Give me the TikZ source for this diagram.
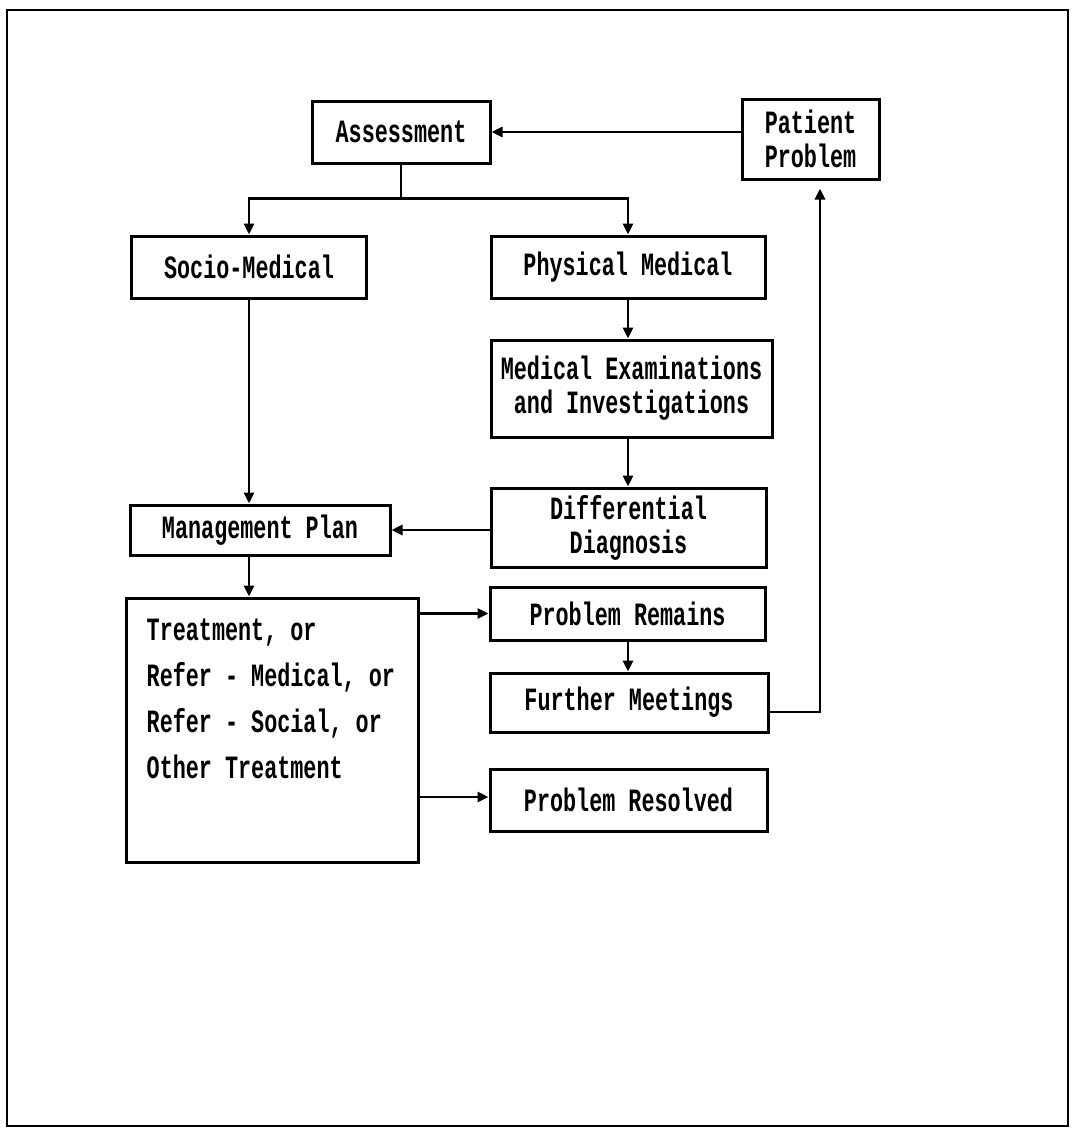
\documentclass[tikz,border=0pt]{standalone}
\usepackage{fontspec}
\newfontfamily\boxfont[FakeStretch=0.67]{Liberation Mono}
\usetikzlibrary{arrows.meta,calc}

\begin{document}
\begin{tikzpicture}[x=1pt,y=-1pt,
  txt/.style={font=\boxfont\bfseries\fontsize{32.5}{34}\selectfont},
  box/.style={txt, draw, line width=3pt, inner sep=0pt, align=center},
  conn/.style={line width=2.8pt},
  arr/.style={conn, -{Triangle[length=11pt,width=10pt]}},
]
\useasboundingbox (0,0) rectangle (1072,1130);
% page frame
\draw[line width=2.2pt] (7,10) rectangle (1068,1126);

% boxes
\node[box, minimum width=178pt, minimum height=62pt] (assess) at (401,132) {Assessment};
\node[box, minimum width=137pt, minimum height=80pt] (patient) at (810.5,139) {Patient\\Problem};
\node[box, minimum width=235pt, minimum height=62pt] (socio) at (249,267) {Socio-Medical};
\node[box, minimum width=274pt, minimum height=62pt] (physical) at (628,267) {Physical Medical};
\node[box, minimum width=281pt, minimum height=97pt] (medexam) at (631.5,388.5) {Medical Examinations\\and Investigations};
\node[box, minimum width=275pt, minimum height=79pt] (diff) at (628.5,527.5) {Differential\\Diagnosis};
\node[box, minimum width=260pt, minimum height=50pt] (mgmt) at (260,530) {Management Plan};
\node[box, minimum width=292pt, minimum height=264pt] (treat) at (272,730) {};
\node[txt, anchor=north west, align=left, inner sep=0pt,
      font=\boxfont\bfseries\fontsize{32.5}{46}\selectfont]
  (treattext) at ([shift={(22,22)}]treat.north west)
  {Treatment, or\\Refer - Medical, or\\Refer - Social, or\\Other Treatment};
\node[box, minimum width=275pt, minimum height=53pt] (remains) at (627.5,613.5) {Problem Remains};
\node[box, minimum width=278pt, minimum height=59pt] (further) at (629,702.5) {Further Meetings};
\node[box, minimum width=277pt, minimum height=62pt] (resolved) at (628.5,800) {Problem Resolved};

% connectors
\draw[arr] (patient.west |- assess.east) -- (assess.east);
\draw[conn] (assess.south) -- ++(0,34) coordinate (split);
\draw[arr] (split) -| (socio.north);
\draw[arr] (split) -| (physical.north);
\draw[arr] (physical.south) -- (physical.south |- medexam.north);
\draw[arr] (physical.south |- medexam.south) -- (physical.south |- diff.north);
\draw[arr] (socio.south) -- (socio.south |- mgmt.north);
\draw[arr] (diff.west |- mgmt.east) -- (mgmt.east);
\draw[arr] (socio.south |- mgmt.south) -- (socio.south |- treat.north);
\draw[arr] (treat.east |- remains.west) -- (remains.west);
\draw[arr] (physical.south |- remains.south) -- (physical.south |- further.north);
\coordinate (back) at ($(patient.south)+(9.5,8)$);
\draw[arr] ($(further.east)+(0,9.5)$) -| (back);
\draw[arr] ($(treat.east |- resolved.west)+(0,-3)$) -- ($(resolved.west)+(0,-3)$);
\end{tikzpicture}
\end{document}
